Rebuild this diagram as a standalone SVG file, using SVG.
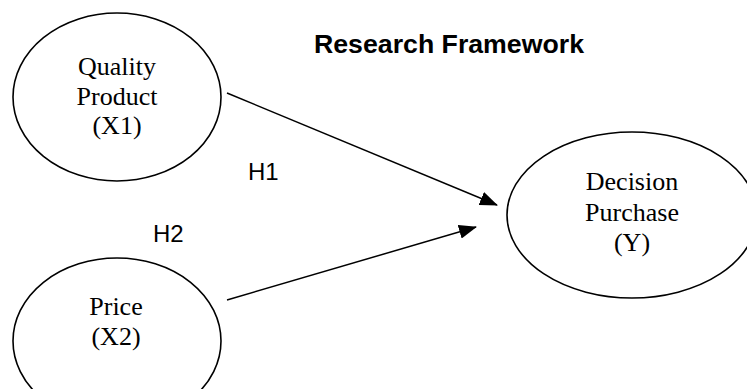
<svg xmlns="http://www.w3.org/2000/svg" width="747" height="389" viewBox="0 0 747 389">
<style>
.node{fill:#fff;stroke:#000;stroke-width:1.6}
.t{font-family:"Liberation Serif","Times New Roman",serif;font-size:26px;fill:#000;text-anchor:middle}
.s{font-family:"Liberation Sans",Arial,sans-serif;fill:#000}
.edge{stroke:#000;stroke-width:1.5;fill:none}
</style>
<defs>
<marker id="ah" markerWidth="18" markerHeight="14" refX="17" refY="7" orient="auto" markerUnits="userSpaceOnUse">
<path d="M0,0 L18,7 L0,14 Z" fill="#000"/>
</marker>
</defs>
<rect width="747" height="389" fill="#fff"/>
<text class="s" x="314" y="53" font-size="26" font-weight="bold" textLength="270" lengthAdjust="spacingAndGlyphs">Research Framework</text>
<g id="x1">
<ellipse class="node" cx="117" cy="97" rx="104" ry="84"/>
<text class="t" x="117" y="75">Quality</text>
<text class="t" x="117" y="105">Product</text>
<text class="t" x="117" y="134">(X1)</text>
</g>
<g id="x2">
<ellipse class="node" cx="117" cy="341" rx="104" ry="83"/>
<text class="t" x="116" y="315">Price</text>
<text class="t" x="116" y="345">(X2)</text>
</g>
<g id="y">
<ellipse class="node" cx="632" cy="215" rx="125" ry="83"/>
<text class="t" x="632" y="190">Decision</text>
<text class="t" x="632" y="221">Purchase</text>
<text class="t" x="632" y="251">(Y)</text>
</g>
<g id="connectors">
<line class="edge" x1="227" y1="93" x2="497" y2="205" marker-end="url(#ah)"/>
<line class="edge" x1="227" y1="300" x2="476" y2="227" marker-end="url(#ah)"/>
<text class="s" x="248" y="180" font-size="24">H1</text>
<text class="s" x="153" y="242" font-size="24">H2</text>
</g>
</svg>
